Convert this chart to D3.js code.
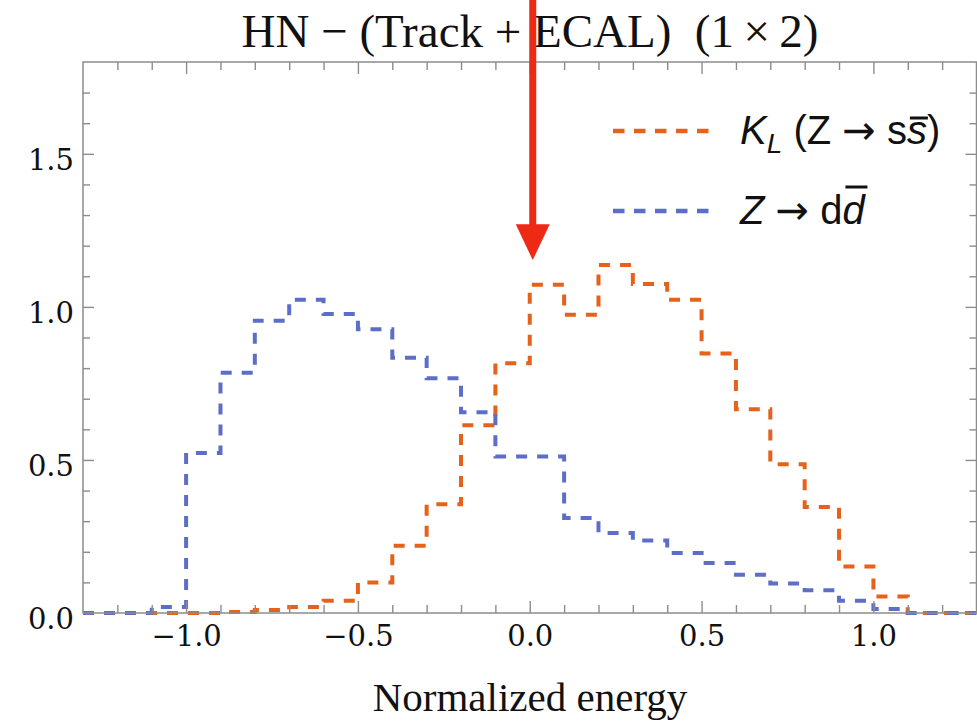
<!DOCTYPE html>
<html>
  <head>
    <meta charset="utf-8">
    <script src="https://d3js.org/d3.v7.min.js"></script>
    <style>
      body { margin: 0; background: #fff; }
    </style>
  </head>
  <body>
    <div id="chart"></div>
  <script>
    // bin edges (width 0.1) and the two normalized histograms
    const binEdges = [-1.3, -1.2, -1.1, -1.0, -0.9, -0.8, -0.7, -0.6, -0.5, -0.4, -0.3, -0.2, -0.1,
                      0.0, 0.1, 0.2, 0.3, 0.4, 0.5, 0.6, 0.7, 0.8, 0.9, 1.0, 1.1, 1.2, 1.3];
    const klValues = [0, 0, 0, 0, 0.003, 0.01, 0.02, 0.04, 0.10, 0.22, 0.355, 0.613, 0.816,
                      1.072, 0.974, 1.137, 1.075, 1.023, 0.848, 0.666, 0.486, 0.346, 0.152, 0.054, 0, 0];
    const ddValues = [0, 0, 0.02, 0.523, 0.785, 0.955, 1.023, 0.977, 0.927, 0.834, 0.767, 0.656, 0.511,
                      0.511, 0.310, 0.261, 0.237, 0.196, 0.163, 0.125, 0.096, 0.074, 0.040, 0.013, 0, 0];

    const xMajor = [-1.0, -0.5, 0.0, 0.5, 1.0];
    const xMinor = [-1.2, -1.1, -0.9, -0.8, -0.7, -0.6, -0.4, -0.3, -0.2, -0.1,
                    0.1, 0.2, 0.3, 0.4, 0.6, 0.7, 0.8, 0.9, 1.1, 1.2];
    const yMajor = [0.0, 0.5, 1.0, 1.5];
    const yMinor = [0.1, 0.2, 0.3, 0.4, 0.6, 0.7, 0.8, 0.9, 1.1, 1.2, 1.3, 1.4, 1.6, 1.7];

    const W = 977, H = 721;
    const margin = {top: 62, right: 0.5, bottom: 108, left: 83};

    const svg = d3.select("#chart").append("svg")
      .attr("width", W)
      .attr("height", H);

    const x = d3.scaleLinear().domain([-1.3, 1.3]).range([margin.left, W - margin.right]);
    const y = d3.scaleLinear().domain([0, 1.8]).range([H - margin.bottom, margin.top]);

    const frameColor = "#8c8c8c";
    const fmt = d3.format(".1f");

    // histograms as dashed step lines
    const line = d3.line()
      .x(d => x(d[0]))
      .y(d => y(d[1]))
      .curve(d3.curveStepAfter);

    function steps(vals) {
      let pts = vals.map((v, i) => [binEdges[i], v]);
      pts.push([binEdges[binEdges.length - 1], vals[vals.length - 1]]);
      return pts;
    }

    const series = [
      {vals: klValues, color: "#e6611a"},
      {vals: ddValues, color: "#5d6ec8"}
    ];

    svg.append("g")
      .selectAll("path")
      .data(series)
      .join("path")
        .attr("d", d => line(steps(d.vals)))
        .attr("fill", "none")
        .attr("stroke", d => d.color)
        .attr("stroke-width", 4)
        .attr("stroke-dasharray", "11,10");

    // axes: ticks inside the frame on all four sides
    function styleAxis(g) {
      g.select(".domain").remove();
      g.selectAll(".tick line").attr("stroke", frameColor).attr("stroke-width", 1.4);
    }

    const bottomY = y(0), topY = y(1.8), leftX = x(-1.3), rightX = x(1.3);

    svg.append("g").attr("transform", `translate(0,${bottomY})`)
      .call(d3.axisBottom(x).tickValues(xMajor).tickSize(-12).tickPadding(12).tickFormat(fmt))
      .call(styleAxis)
      .call(g => g.selectAll("text").attr("font-family", "DejaVu Serif").attr("font-size", 29).attr("fill", "#111"));
    svg.append("g").attr("transform", `translate(0,${bottomY})`)
      .call(d3.axisBottom(x).tickValues(xMinor).tickSize(-8).tickFormat(""))
      .call(styleAxis);

    svg.append("g").attr("transform", `translate(0,${topY})`)
      .call(d3.axisTop(x).tickValues(xMajor).tickSize(-12).tickFormat(""))
      .call(styleAxis);
    svg.append("g").attr("transform", `translate(0,${topY})`)
      .call(d3.axisTop(x).tickValues(xMinor).tickSize(-8).tickFormat(""))
      .call(styleAxis);

    svg.append("g").attr("transform", `translate(${leftX},0)`)
      .call(d3.axisLeft(y).tickValues(yMajor).tickSize(-11).tickPadding(9).tickFormat(fmt))
      .call(styleAxis)
      .call(g => g.selectAll("text").attr("font-family", "DejaVu Serif").attr("font-size", 29).attr("fill", "#111").attr("dy", "0.55em"));
    svg.append("g").attr("transform", `translate(${leftX},0)`)
      .call(d3.axisLeft(y).tickValues(yMinor).tickSize(-7).tickFormat(""))
      .call(styleAxis);

    svg.append("g").attr("transform", `translate(${rightX},0)`)
      .call(d3.axisRight(y).tickValues(yMajor).tickSize(-11).tickFormat(""))
      .call(styleAxis);
    svg.append("g").attr("transform", `translate(${rightX},0)`)
      .call(d3.axisRight(y).tickValues(yMinor).tickSize(-7).tickFormat(""))
      .call(styleAxis);

    // frame
    svg.append("rect")
      .attr("x", leftX).attr("y", topY)
      .attr("width", rightX - leftX).attr("height", bottomY - topY)
      .attr("fill", "none")
      .attr("stroke", frameColor)
      .attr("stroke-width", 1.5);

    // title and x label
    svg.append("text")
      .attr("x", 530).attr("y", 47)
      .attr("text-anchor", "middle")
      .attr("font-family", "Liberation Serif, Times New Roman, serif")
      .attr("font-size", 47)
      .attr("fill", "#111")
      .text("HN \u2212 (Track + ECAL)\u00a0\u00a0(1\u2009\u00d7\u20092)");

    svg.append("text")
      .attr("x", 530).attr("y", 711)
      .attr("text-anchor", "middle")
      .attr("font-family", "Liberation Serif, Times New Roman, serif")
      .attr("font-size", 41)
      .attr("fill", "#111")
      .text("Normalized energy");

    // legend
    const legend = svg.append("g").attr("font-family", "Liberation Sans, Arial, sans-serif")
      .attr("font-size", 40).attr("fill", "#111");
    const legY = [131, 211];
    legend.selectAll("line")
      .data(series)
      .join("line")
        .attr("x1", 613).attr("x2", 709)
        .attr("y1", (d, i) => legY[i]).attr("y2", (d, i) => legY[i])
        .attr("stroke", d => d.color)
        .attr("stroke-width", 4.5)
        .attr("stroke-dasharray", "11.5,9.5");

    const arrowFont = "DejaVu Sans";

    const t1 = legend.append("text").attr("x", 740).attr("y", legY[0] + 13);
    t1.append("tspan").attr("font-style", "italic").text("K");
    t1.append("tspan").attr("font-style", "italic").attr("font-size", 28).attr("dy", 9).text("L");
    t1.append("tspan").attr("dy", -9).text("\u00a0(Z ");
    t1.append("tspan").attr("font-family", arrowFont).text("\u2192");
    t1.append("tspan").text(" s");
    const s1 = t1.append("tspan").attr("font-style", "italic").text("s");
    t1.append("tspan").text(")");

    const t2 = legend.append("text").attr("x", 740).attr("y", legY[1] + 13);
    t2.append("tspan").attr("font-style", "italic").text("Z");
    t2.append("tspan").text(" ");
    t2.append("tspan").attr("font-family", arrowFont).text("\u2192");
    t2.append("tspan").text(" d");
    const d2 = t2.append("tspan").attr("font-style", "italic").text("d");

    // overlines for the antiquarks
    function overline(span, top) {
      const b = span.node().getBBox();
      legend.append("line")
        .attr("x1", b.x + 3).attr("x2", b.x + b.width + 1)
        .attr("y1", top).attr("y2", top)
        .attr("stroke", "#111")
        .attr("stroke-width", 3);
    }
    overline(s1, legY[0] - 13);
    overline(d2, legY[1] - 24);

    // red arrow pointing at 0
    const ax = x(0) + 3;
    svg.append("line")
      .attr("x1", ax).attr("x2", ax)
      .attr("y1", 0).attr("y2", y(1.26))
      .attr("stroke", "#ee2a16")
      .attr("stroke-width", 7);
    svg.append("path")
      .attr("d", `M${ax - 17},${y(1.27)} L${ax + 17},${y(1.27)} L${ax},${y(1.153)} Z`)
      .attr("fill", "#ee2a16");
  </script>
  </body>
</html>
